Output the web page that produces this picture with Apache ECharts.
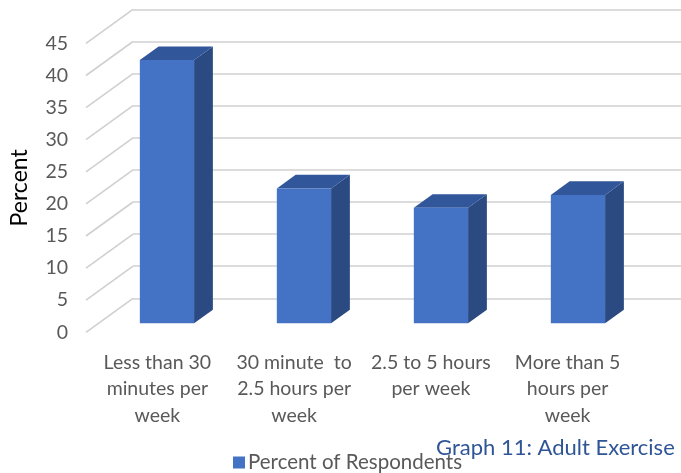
<!DOCTYPE html>
<html>
<head>
<meta charset="utf-8">
<script src="https://cdn.jsdelivr.net/npm/echarts@6/dist/echarts.min.js"></script>
<style>
  html, body { margin: 0; padding: 0; background: #fff; }
  #chart { width: 681px; height: 473px; }
</style>
</head>
<body>
<div id="chart"></div>
<script>
const categories = [
  'Less than 30\nminutes per\nweek',
  '30 minute  to\n2.5 hours per\nweek',
  '2.5 to 5 hours\nper week',
  'More than 5\nhours per\nweek'
]
const percentValues = [41, 21, 18, 20]
const yTicks = [0, 5, 10, 15, 20, 25, 30, 35, 40, 45]

// fake 3d: offset from the back wall to the front plane
const DX = -47, DY = 34
const BAR_FRONT = 0.735, BAR_BACK = 0.335
const FONT = 'Lato'

const chart = echarts.init(document.getElementById('chart'))

function renderBar(params, api) {
  const idx = api.value(0)
  const base = api.coord([idx, 0])
  const top = api.coord([idx, api.value(1)])
  const w = api.size([1, 0])[0] * 0.396
  const cx = base[0]
  const fx = cx + DX * BAR_FRONT, fyT = top[1] + DY * BAR_FRONT, fyB = base[1] + DY * BAR_FRONT
  const bx = cx + DX * BAR_BACK, byT = top[1] + DY * BAR_BACK, byB = base[1] + DY * BAR_BACK
  return {
    type: 'group',
    children: [
      { type: 'polygon', shape: { points: [[fx + w / 2, fyT], [bx + w / 2, byT], [bx + w / 2, byB], [fx + w / 2, fyB]] },
        style: { fill: '#2a4a81' } },
      { type: 'polygon', shape: { points: [[fx - w / 2, fyT], [fx + w / 2, fyT], [bx + w / 2, byT], [bx - w / 2, byT]] },
        style: { fill: '#31569a' } },
      { type: 'rect', shape: { x: fx - w / 2, y: fyT, width: w, height: fyB - fyT },
        style: { fill: '#4472c4' } }
    ]
  }
}

function renderDiag(params, api) {
  const y = api.coord([0, api.value(1)])[1]
  const x = params.coordSys.x
  return {
    type: 'line',
    shape: { x1: x, y1: y, x2: x + DX, y2: y + DY },
    style: { stroke: '#d0d0d0', lineWidth: 1.6 }
  }
}

chart.setOption({
  backgroundColor: '#fff',
  animation: false,
  textStyle: { fontFamily: FONT },
  title: {
    text: 'Graph 11: Adult Exercise',
    left: 431, top: 432,
    textStyle: { color: '#2f5597', fontSize: 22, fontWeight: 'normal', fontFamily: FONT }
  },
  legend: {
    data: ['Percent of Respondents'],
    left: 228, top: 447,
    icon: 'rect', itemWidth: 12, itemHeight: 12, itemGap: 4,
    textStyle: { color: '#595959', fontSize: 20.5, fontFamily: FONT, padding: [0, 0, 0, -2] }
  },
  grid: [
    { left: 133, top: 9.4, width: 550, height: 288.9 },
    { left: 86, top: 43.4, width: 550, height: 288.9 }
  ],
  xAxis: [
    { type: 'category', gridIndex: 0, data: categories,
      axisLine: { show: false }, axisTick: { show: false }, axisLabel: { show: false } },
    { type: 'category', gridIndex: 1, data: categories,
      axisLine: { show: false }, axisTick: { show: false },
      axisLabel: { interval: 0, margin: 17, color: '#595959', fontSize: 19.5, lineHeight: 26.5, fontFamily: FONT } }
  ],
  yAxis: [
    { type: 'value', gridIndex: 0, min: 0, max: 45, interval: 5,
      axisLine: { show: false }, axisTick: { show: false }, axisLabel: { show: false },
      splitLine: { lineStyle: { color: '#d0d0d0', width: 1.6 } } },
    { type: 'value', gridIndex: 1, min: 0, max: 45, interval: 5,
      name: 'Percent', nameLocation: 'middle', nameGap: 58,
      nameTextStyle: { color: '#000', fontSize: 23, fontFamily: FONT },
      axisLine: { show: false }, axisTick: { show: false }, splitLine: { show: false },
      axisLabel: { margin: 21, color: '#595959', fontSize: 19.5, fontFamily: FONT } }
  ],
  series: [
    { type: 'custom', name: 'walls', xAxisIndex: 0, yAxisIndex: 0, silent: true,
      renderItem: renderDiag, data: yTicks.map(v => [0, v]), z: 1 },
    { type: 'custom', name: 'Percent of Respondents', xAxisIndex: 0, yAxisIndex: 0,
      itemStyle: { color: '#4472c4' },
      renderItem: renderBar, encode: { x: 0, y: 1 },
      data: percentValues.map((v, i) => [i, v]), z: 2 }
  ]
})
</script>
</body>
</html>
